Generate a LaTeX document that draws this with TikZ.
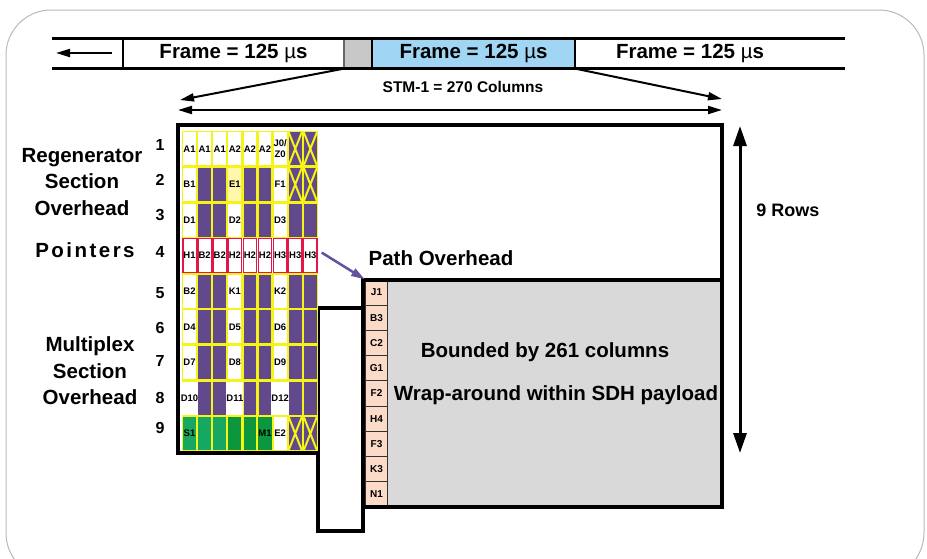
\documentclass[tikz,border=0pt]{standalone}
\usepackage{fontspec}
\setmainfont{Liberation Sans}
\usetikzlibrary{arrows.meta}

\definecolor{sohpurple}{RGB}{98,73,140}
\definecolor{sohyellow}{RGB}{246,244,20}
\definecolor{paleyellow}{RGB}{255,247,170}
\definecolor{ptrred}{RGB}{226,22,72}
\definecolor{greenA}{RGB}{22,168,98}
\definecolor{greenB}{RGB}{12,150,62}
\definecolor{frameblue}{RGB}{160,214,244}
\definecolor{gapgray}{RGB}{200,200,200}
\definecolor{paygray}{RGB}{217,217,217}
\definecolor{pohpeach}{RGB}{252,218,200}
\definecolor{pointerpurple}{RGB}{100,80,160}

\begin{document}
\begin{tikzpicture}[
	x = 1pt, y = -1pt, % pixel grid, y runs downwards
	> = {Triangle[length=14pt,width=8pt]}, % arrow head style
	line join = miter,
	font = \bfseries
	]
	
	\tikzstyle{framebox}=[
	rectangle, draw, line width = 1.5,
	minimum height = 30, inner sep = 0pt,
	font = \fontsize{20.5}{23}\selectfont\bfseries
	]
	\tikzstyle{cellbox}=[
	rectangle, inner sep = 0pt, align = center,
	minimum width = 12.8, minimum height = 33,
	font = \fontsize{9.5}{10.5}\selectfont\bfseries
	]
	\tikzstyle{ptrcell}=[
	cellbox, draw = ptrred, fill = white, line width = 1.4,
	minimum width = 13.4, minimum height = 33.8
	]
	\tikzstyle{pohcell}=[
	rectangle, draw = black!80, fill = pohpeach, line width = 1,
	minimum width = 22, minimum height = 25.2, inner sep = 0pt,
	font = \fontsize{10}{11}\selectfont\bfseries
	]
	\tikzstyle{biglabel}=[align = center, font = \fontsize{20.5}{26.5}\selectfont\bfseries]
	\tikzstyle{rownum}=[font = \fontsize{16}{18}\selectfont\bfseries]
	\tikzstyle{frameline}=[line width = 4]
	
	\useasboundingbox (0,0) rectangle (927,558);
	\draw[gray!55, line width = 1, rounded corners = 45] (6,10) rectangle (924,578);
	
	% time line of frames
	\node[framebox, minimum width = 221, fill = white] (f1) at (233.5,53) {Frame = 125 {\mdseries µ}s};
	\node[framebox, minimum width = 28, fill = gapgray, draw = black!60] (gap) at (358,53) {};
	\node[framebox, minimum width = 203, fill = frameblue] (f2) at (473.5,53) {Frame = 125 {\mdseries µ}s};
	\node[font = \fontsize{20.5}{23}\selectfont\bfseries] (f3) at (690,53) {Frame = 125 {\mdseries µ}s};
	\draw[line width = 3] (52,38) -- (845,38) (52,68) -- (845,68);
	\coordinate (back0) at (112,53);
	\coordinate (back1) at (56,53);
	\draw[->, line width = 2] (back0) -- (back1);
	
	% zoom onto one frame
	\coordinate (zl) at (180,100);
	\coordinate (zr) at (722,99);
	\draw[->, line width = 2] (gap.south west) -- (zl);
	\draw[->, line width = 2] (f2.south east) -- (zr);
	\coordinate (wl) at (178,110);
	\coordinate (wr) at (722,110);
	\draw[<->, line width = 2] (wl) -- (wr);
	\node[font = \fontsize{15.5}{18}\selectfont\bfseries] (stm) at (463,87) {STM-1 = 270 Columns};
	
	% payload
	\node[rectangle, fill = paygray, minimum width = 334, minimum height = 227, anchor = north west, inner sep = 0pt] (pay) at (388,280) {};
	\foreach \l [count=\i] in {J1,B3,C2,G1,F2,H4,F3,K3,N1}
	\node[pohcell] (p\i) at (376.5, {280+25.2*(\i-0.5)}) {\l};
	\node[biglabel] (bound) at (545,352) {Bounded by 261 columns};
	\node[biglabel] (wrap) at (556,395) {Wrap-around within SDH payload};
	\node[biglabel] (path) at (441,258) {Path Overhead};
	
	% frame outline
	\draw[frameline, fill = white] (318,308) rectangle (363,531);
	\draw[frameline] (320,453) -- (178,453) -- (178,125) -- (722,125) -- (722,507) -- (363,507) -- (363,280) -- (722,280);
	
	% section overhead bytes
	\fill[sohyellow] (182,131) rectangle (318,451);
	\fill[white] (182,237.8) rectangle (318,273.4);
	\foreach \c/\f/\l in {1/white/A1, 2/white/A1, 3/white/A1, 4/white/A2, 5/white/A2, 6/white/A2, 7/white/{J0/\\Z0}, 8/sohpurple/, 9/sohpurple/}
	\node[cellbox, fill = \f] (c1-\c) at ({182+15.1*(\c-0.5)},148.8) {\l};
	\foreach \c/\f/\l in {1/white/B1, 2/sohpurple/, 3/sohpurple/, 4/paleyellow/E1, 5/sohpurple/, 6/sohpurple/, 7/white/F1, 8/sohpurple/, 9/sohpurple/}
	\node[cellbox, fill = \f] (c2-\c) at ({182+15.1*(\c-0.5)},184.4) {\l};
	\foreach \r/\y/\a/\b/\d in {3/220.0/D1/D2/D3, 5/291.2/B2/K1/K2, 6/326.8/D4/D5/D6, 7/362.4/D7/D8/D9, 8/398.0/D10/D11/D12}
	{
		\node[cellbox, fill = white] (c\r-1) at ({182+15.1*0.5},\y) {\a};
		\node[cellbox, fill = white] (c\r-4) at ({182+15.1*3.5},\y) {\b};
		\node[cellbox, fill = white] (c\r-7) at ({182+15.1*6.5},\y) {\d};
		\foreach \c in {2,3,5,6,8,9}
		\node[cellbox, fill = sohpurple] (c\r-\c) at ({182+15.1*(\c-0.5)},\y) {};
	}
	\foreach \l [count=\c] in {H1,B2,B2,H2,H2,H2,H3,H3,H3}
	\node[ptrcell] (c4-\c) at ({182+15.1*(\c-0.5)},255.6) {\l};
	\foreach \c/\f/\l in {1/greenA/S1, 2/greenA/, 3/greenA/, 4/greenB/, 5/greenB/, 6/greenB/M1, 7/white/E2, 8/sohpurple/, 9/sohpurple/}
	\node[cellbox, fill = \f] (c9-\c) at ({182+15.1*(\c-0.5)},433.6) {\l};
	\foreach \n in {c1-8,c1-9,c2-8,c2-9,c9-8,c9-9}
	\draw[sohyellow, line width = 2] (\n.north west) -- (\n.south east) (\n.south west) -- (\n.north east);
	
	% pointer to the path overhead
	\draw[->, pointerpurple, line width = 2.5] ([shift={(4,-3)}]c4-9.east) -- (p1.north west);
	
	% row numbers and section names
	\foreach \y [count=\i] in {145,180,215,252,293,328,361,398,428}
	\node[rownum] (n\i) at (160,\y) {\i};
	\node[biglabel] (rsoh) at (82,182) {Regenerator\\Section\\Overhead};
	\node[biglabel] (ptr) at (85,250) {\addfontfeatures{LetterSpace=12}Pointers};
	\node[biglabel] (msoh) at (90,371) {Multiplex\\Section\\Overhead};
	
	% nine rows
	\coordinate (rt) at (740,126);
	\coordinate (rb) at (740,453);
	\draw[{Triangle[length=20pt,width=13pt]}-{Triangle[length=20pt,width=13pt]}, line width = 3] (rt) -- (rb);
	\node[font = \fontsize{18}{20}\selectfont\bfseries] (rows) at (788,210) {9 Rows};
	
\end{tikzpicture}
\end{document}
